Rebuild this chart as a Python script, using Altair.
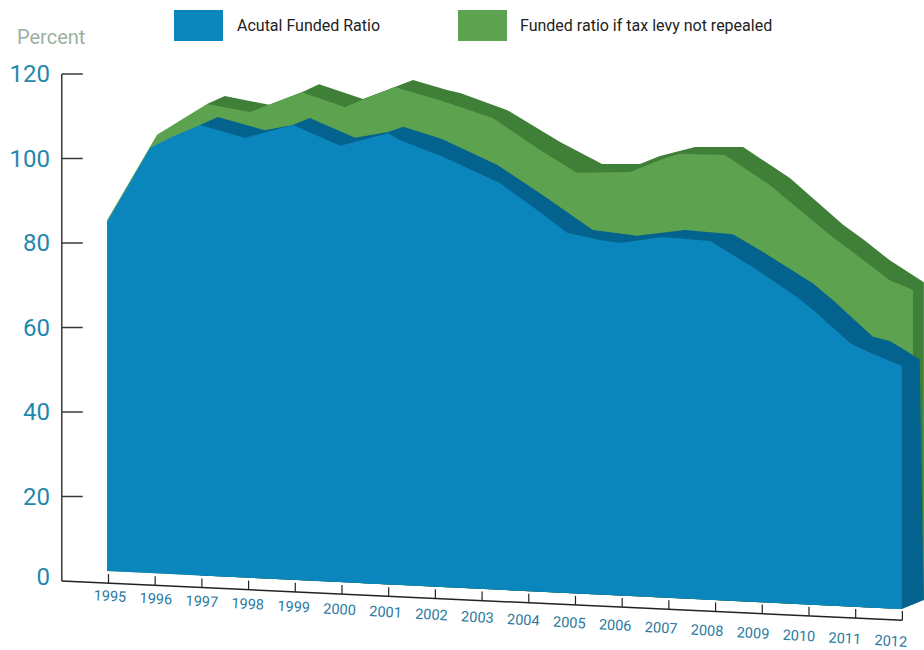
import altair as alt
import numpy as np
import pandas as pd

# Outline of each surface: year position and percent level
front_blue_x = [1994.97, 1995.89, 1996.32, 1996.96, 1997.92, 1998.95, 1999.96, 2000.99, 2001.24, 2002.16, 2003.38,
                2004.09, 2004.82, 2005.52, 2005.95, 2006.87, 2007.88, 2008.31, 2008.89, 2009.74, 2010.17, 2010.88,
                2011.31, 2011.99]
front_blue_y = [84.9, 102.5, 104.9, 107.9, 104.9, 107.9, 103.0, 106.0, 104.4, 100.4, 94.2,
                88.5, 82.4, 80.7, 80.0, 81.4, 80.5, 77.6, 73.6, 67.2, 63.4, 56.3,
                54.0, 50.9]

top_blue_x = [1996.96, 1997.34, 1998.35, 1998.95, 1999.31, 2000.28, 2000.99, 2001.31, 2002.14, 2003.32, 2004.24,
              2005.37, 2006.32, 2007.34, 2008.37, 2009.01, 2010.08, 2010.51, 2011.37, 2011.73, 2011.99, 2012.37,
              2012.43, 2012.46]
top_blue_y = [107.9, 109.8, 106.7, 107.9, 109.6, 104.9, 106.3, 107.5, 104.6, 98.5, 91.8,
              83.1, 81.7, 83.1, 82.1, 77.9, 70.5, 66.5, 57.8, 56.8, 55.1, 52.4,
              12.1, -4.5]

front_green_x = [1994.97, 1996.04, 1997.11, 1998.03, 1999.14, 2000.06, 2001.13, 2002.10, 2003.23, 2004.24,
                 2005.03, 2006.17, 2006.92, 2007.24, 2008.20, 2009.16, 2010.45, 2011.16, 2011.73, 2012.23]
front_green_y = [85.4, 105.6, 112.9, 111.0, 115.7, 112.2, 116.9, 113.8, 109.6, 102.0,
                 96.6, 96.8, 100.1, 101.1, 100.8, 93.7, 81.9, 76.0, 71.2, 68.9]

top_green_x = [1997.11, 1997.49, 1998.44, 1999.14, 1999.51, 2000.45, 2001.13, 2001.52, 2002.25, 2002.53, 2003.53,
               2004.67, 2005.57, 2006.38, 2006.81, 2007.56, 2008.59, 2009.59, 2010.73, 2011.18, 2011.73, 2012.46]
top_green_y = [112.9, 114.8, 112.7, 115.7, 117.6, 114.1, 116.9, 118.6, 116.2, 115.5, 111.5,
               103.9, 98.7, 98.7, 100.6, 102.7, 102.7, 95.4, 84.3, 80.7, 75.9, 70.7]

years = list(range(1995, 2013))
y_ticks = [20, 40, 60, 80, 100, 120]

BLUE, BLUE_DARK = "#0b86bd", "#04628f"
GREEN, GREEN_DARK = "#5ca24f", "#3f7f37"
AXIS_COLOR = "#3a3a3a"
NUMBER_COLOR = "#1f88ad"
YEAR_COLOR = "#2b7a9f"
FONT = "Roboto"

x_scale = alt.Scale(domain=[1992.677, 2012.463], range=[0, 924], nice=False, zero=False, clamp=False)
y_scale = alt.Scale(domain=[137.515, -16.331], range=[0, 650], nice=False, zero=False)
X = alt.X("x:Q", scale=x_scale, axis=None)
Y = alt.Y("y:Q", scale=y_scale, axis=None)
Y2 = alt.Y2("y2:Q")


def floor_level(year):
    """Lower edge of the solid: it runs down to 2012, then back up along the side face."""
    return np.interp(year, [1995, 2011.99, 2012.46], [2.37, -6.63, -4.5])


def surface(xs, ys, color):
    frame = pd.DataFrame({"x": xs, "y": ys})
    frame["y2"] = floor_level(frame["x"])
    return alt.Chart(frame).mark_area(color=color, interpolate="linear", opacity=1).encode(x=X, y=Y, y2=Y2)


# Tilted floor line with its year ticks
def axis_level(year):
    return -(np.asarray(year, dtype=float) - 1994) * 0.515


floor_line = alt.Chart(pd.DataFrame({"x": [1994, 2012], "y": axis_level([1994, 2012])})).mark_line(
    color="#222222", strokeWidth=1.5).encode(x=X, y=Y)

year_frame = pd.DataFrame({"x": years})
year_frame["y"] = axis_level(years)
year_frame["y2"] = year_frame["y"] + 2.15
year_ticks = alt.Chart(year_frame).mark_rule(color="#222222", strokeWidth=1.2).encode(x=X, y=Y, y2=Y2)

label_frame = pd.DataFrame({"x": [1995.03 + (y - 1995) * 0.9836 for y in years],
                            "y": [-3.79 - (y - 1995) * 0.626 for y in years],
                            "t": [str(y) for y in years]})
year_labels = alt.Chart(label_frame).mark_text(
    font=FONT, fontSize=14.5, color=YEAR_COLOR, align="center", baseline="middle", angle=3
).encode(x=X, y=Y, text="t:N")

# Vertical percent axis
spine = alt.Chart(pd.DataFrame({"x": [1994], "y": [0], "y2": [120]})).mark_rule(
    color=AXIS_COLOR, strokeWidth=1.5).encode(x=X, y=Y, y2=Y2)
tick_frame = pd.DataFrame({"x": [1994] * len(y_ticks), "x2": [1994.45] * len(y_ticks), "y": y_ticks})
y_tick_marks = alt.Chart(tick_frame).mark_rule(color=AXIS_COLOR, strokeWidth=1.5).encode(
    x=X, x2=alt.X2("x2:Q"), y=Y)
y_labels = alt.Chart(pd.DataFrame({"y": y_ticks, "t": [str(v) for v in y_ticks]})).mark_text(
    font=FONT, fontSize=24, color=NUMBER_COLOR, align="right", baseline="middle", dy=1
).encode(x=alt.value(50), y=Y, text="t:N")
zero_label = alt.Chart(pd.DataFrame({"y": [0], "t": ["0"]})).mark_text(
    font=FONT, fontSize=24, color=NUMBER_COLOR, align="right", baseline="middle", dy=-3
).encode(x=alt.value(50), y=Y, text="t:N")

percent_title = alt.Chart(pd.DataFrame({"t": ["Percent"]})).mark_text(
    font=FONT, fontSize=20, color="#9bb0a2", align="left", baseline="middle"
).encode(x=alt.value(17), y=alt.value(38), text="t:N")


# Legend swatches and captions
def swatch(left, color):
    return alt.Chart(pd.DataFrame({"k": [0]})).mark_rect(color=color).encode(
        x=alt.value(left), x2=alt.value(left + 49), y=alt.value(10), y2=alt.value(41))


def caption(left, text):
    return alt.Chart(pd.DataFrame({"t": [text]})).mark_text(
        font=FONT, fontSize=16, color="#222222", align="left", baseline="middle"
    ).encode(x=alt.value(left), y=alt.value(26), text="t:N")


chart = alt.layer(
    surface(top_green_x, top_green_y, GREEN_DARK),
    surface(front_green_x, front_green_y, GREEN),
    surface(top_blue_x, top_blue_y, BLUE_DARK),
    surface(front_blue_x, front_blue_y, BLUE),
    floor_line, year_ticks, year_labels,
    spine, y_tick_marks, y_labels, zero_label, percent_title,
    swatch(174, BLUE), swatch(458, GREEN),
    caption(237, "Acutal Funded Ratio"),
    caption(520, "Funded ratio if tax levy not repealed"),
).properties(
    width=924, height=650, padding=0, autosize=alt.AutoSizeParams(type="none"), background="white"
).configure_view(stroke=None)

chart.save("out.html", embed_options={"renderer": "svg", "actions": False})
